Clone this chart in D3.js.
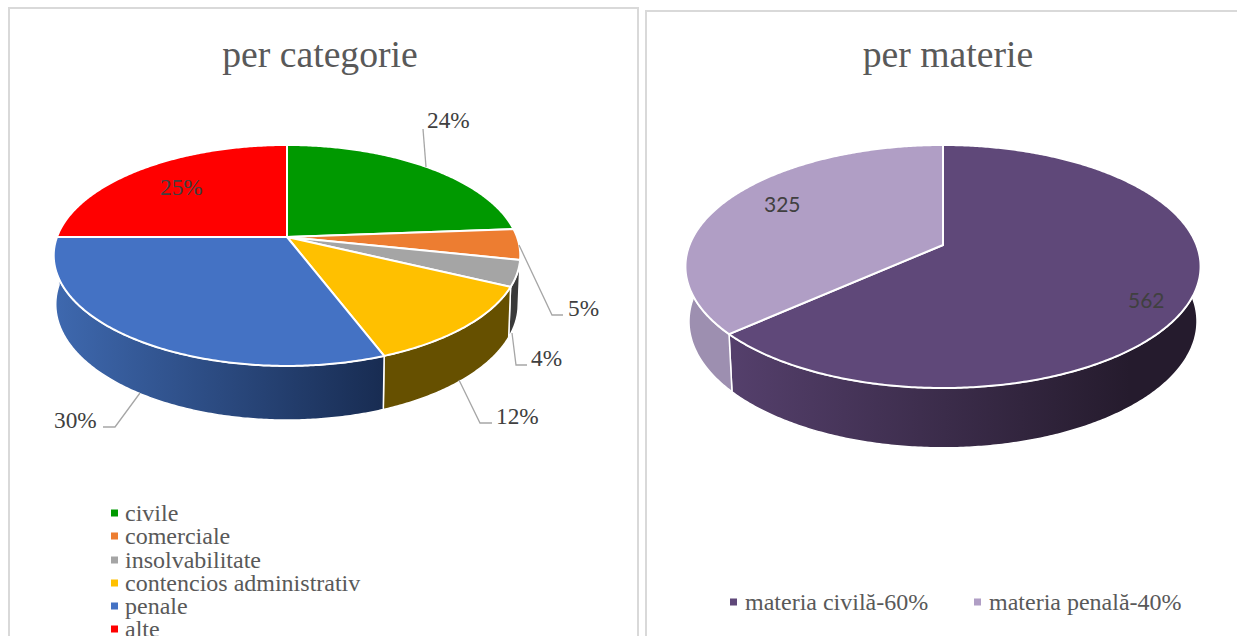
<!DOCTYPE html>
<html>
<head>
<meta charset="utf-8">
<script src="https://d3js.org/d3.v7.min.js"></script>
<style>
    html, body { margin: 0; padding: 0; background: #fff; overflow: hidden; }
    svg { display: block; }
    text { font-family: "Liberation Serif", serif; }
</style>
</head>
<body>
<svg id="chart" width="1237" height="636"></svg>
<script>
const categories = ['civile', 'comerciale', 'insolvabilitate', 'contencios administrativ', 'penale', 'alte']
const categoryValues = [23.8, 4.5, 3.8, 12.1, 30.8, 25]
const categoryLabels = ['24%', '5%', '4%', '12%', '30%', '25%']
const categoryColors = ['#009900', '#ed7d31', '#a5a5a5', '#ffc000', '#4472c4', '#ff0000']
const categoryWalls = [['#005200', '#005200'], ['#7a4019', '#7a4019'], ['#3a3a3a', '#3a3a3a'], ['#665000', '#665000'], ['#3e68ae', '#182c52'], ['#880000', '#880000']]

const materii = ['materia civilă-60%', 'materia penală-40%']
const materiiValues = [562, 325]
const materiiLabels = ['562', '325']
const materiiColors = ['#5f4879', '#b09ec5']
const materiiWalls = [['#543f6b', '#251b2d'], ['#9d8fb0', '#97899f']]

class Pie3D {

    constructor(_config, _names, _values, _labels, _colors, _walls) {
        this.config = _config
        this.names = _names
        this.values = _values
        this.labels = _labels
        this.colors = _colors
        this.walls = _walls

        this.initVis()
    }

    initVis() {
        let vis = this
        let c = vis.config

        vis.chart = d3.select('#chart').append('g').attr('class', c.id)

        // panel outline, open at the bottom of the window
        vis.chart.append('path')
            .attr('d', `M${c.frame[0]},640 V${c.frame[2]} H${c.frame[1]} V640`)
            .attr('fill', 'none')
            .attr('stroke', '#d9d9d9')
            .attr('stroke-width', 2)

        vis.chart.append('text')
            .attr('x', c.titleX)
            .attr('y', 67)
            .attr('text-anchor', 'middle')
            .attr('font-size', 37.7)
            .attr('fill', '#595959')
            .text(c.title)

        vis.slices = d3.pie().sort(null)(vis.values)

        // tilted disc: circle seen in perspective, apex is off the ellipse centre
        vis.project = (angle, rim) => {
            let x = Math.sin(angle)
            let y = -Math.cos(angle)
            let w = 1 + c.k * y
            return [c.cx + rim.rx * x / w, rim.cy + rim.ry * y / w]
        }

        vis.defs = d3.select('#chart').append('defs')
        vis.renderVis()
    }

    arcPoints(a0, a1, rim) {
        let vis = this
        let n = Math.max(2, Math.ceil((a1 - a0) / 0.01))
        return d3.range(n + 1).map(i => vis.project(a0 + (a1 - a0) * i / n, rim))
    }

    renderVis() {
        let vis = this
        let c = vis.config
        let line = d3.line()

        // walls only for the front half
        let front = vis.slices
            .map((d, i) => ({ i, a0: Math.max(d.startAngle, Math.PI / 2), a1: Math.min(d.endAngle, Math.PI * 1.5) }))
            .filter(d => d.a1 > d.a0)

        front.forEach(d => {
            let grad = vis.defs.append('linearGradient')
                .attr('id', `${c.id}-wall-${d.i}`)
                .attr('gradientUnits', 'userSpaceOnUse')
                .attr('x1', c.wallGradient[0])
                .attr('x2', c.wallGradient[1])
                .attr('y1', 0)
                .attr('y2', 0)
            grad.append('stop').attr('offset', 0).attr('stop-color', vis.walls[d.i][0])
            grad.append('stop').attr('offset', 1).attr('stop-color', vis.walls[d.i][1])
        })

        vis.chart.selectAll('.wall')
            .data(front)
            .join('path')
                .attr('class', 'wall')
                .attr('d', d => line(vis.arcPoints(d.a0, d.a1, c.top).concat(vis.arcPoints(d.a0, d.a1, c.bottom).reverse())) + 'Z')
                .attr('fill', d => `url(#${c.id}-wall-${d.i})`)
                .attr('stroke', '#fff')
                .attr('stroke-width', 1.5)

        vis.chart.selectAll('.slice')
            .data(vis.slices)
            .join('path')
                .attr('class', 'slice')
                .attr('d', d => line([[c.cx, c.top.cy]].concat(vis.arcPoints(d.startAngle, d.endAngle, c.top))) + 'Z')
                .attr('fill', (d, i) => vis.colors[i])
                .attr('stroke', '#fff')
                .attr('stroke-width', 2)
                .attr('stroke-linejoin', 'round')

        vis.chart.selectAll('.leader')
            .data(c.leaders)
            .join('polyline')
                .attr('class', 'leader')
                .attr('points', d => d.join(' '))
                .attr('fill', 'none')
                .attr('stroke', '#a6a6a6')
                .attr('stroke-width', 1.3)

        vis.chart.selectAll('.label')
            .data(vis.labels)
            .join('text')
                .attr('class', 'label')
                .attr('x', (d, i) => c.labelPos[i][0])
                .attr('y', (d, i) => c.labelPos[i][1])
                .attr('font-size', c.labelSize)
                .attr('fill', '#404040')
                .style('font-family', c.labelFont)
                .text(d => d)

        let legend = vis.chart.selectAll('.legend')
            .data(vis.names)
            .join('g')
                .attr('class', 'legend')
                .attr('transform', (d, i) => `translate(${c.legendPos[i][0]}, ${c.legendPos[i][1]})`)

        legend.append('rect')
            .attr('x', 0)
            .attr('y', -3.5)
            .attr('width', 7)
            .attr('height', 7)
            .attr('fill', (d, i) => vis.colors[i])

        legend.append('text')
            .attr('x', c.legendTextX)
            .attr('y', 8)
            .attr('font-size', c.legendSize)
            .attr('fill', '#595959')
            .text(d => d)
    }
}

new Pie3D({
    id: 'categorie',
    title: 'per categorie',
    titleX: 320,
    frame: [9, 638, 8],
    cx: 287,
    k: -0.167,
    top: { cy: 237, rx: 230, ry: 107.4 },
    bottom: { cy: 285, rx: 228, ry: 112.5 },
    wallGradient: [57, 383],
    labelSize: 23.3,
    labelFont: '"Liberation Serif", serif',
    labelPos: [[427, 128], [568, 316], [531, 366], [496, 424], [54, 428], [160, 195]],
    leaders: [
        [[423, 129], [426, 167]],
        [[519, 245], [552, 315], [563, 315]],
        [[512, 333], [516, 365], [527, 365]],
        [[459, 380], [480, 423], [492, 423]],
        [[140, 393], [115, 427], [103, 427]]
    ],
    legendSize: 24,
    legendTextX: 14,
    legendPos: [[111, 513], [111, 536], [111, 560], [111, 583], [111, 606], [111, 629]]
}, categories, categoryValues, categoryLabels, categoryColors, categoryWalls)

new Pie3D({
    id: 'materie',
    title: 'per materie',
    titleX: 948,
    frame: [646, 1240, 11],
    cx: 943,
    k: -0.177,
    top: { cy: 245, rx: 253.5, ry: 117.7 },
    bottom: { cy: 299, rx: 250, ry: 122.5 },
    wallGradient: [735, 1130],
    labelSize: 21,
    labelFont: 'Lato, sans-serif',
    labelPos: [[1128, 308], [764, 212]],
    leaders: [],
    legendSize: 24,
    legendTextX: 15,
    legendPos: [[730, 602], [974, 602]]
}, materii, materiiValues, materiiLabels, materiiColors, materiiWalls)
</script>
</body>
</html>
